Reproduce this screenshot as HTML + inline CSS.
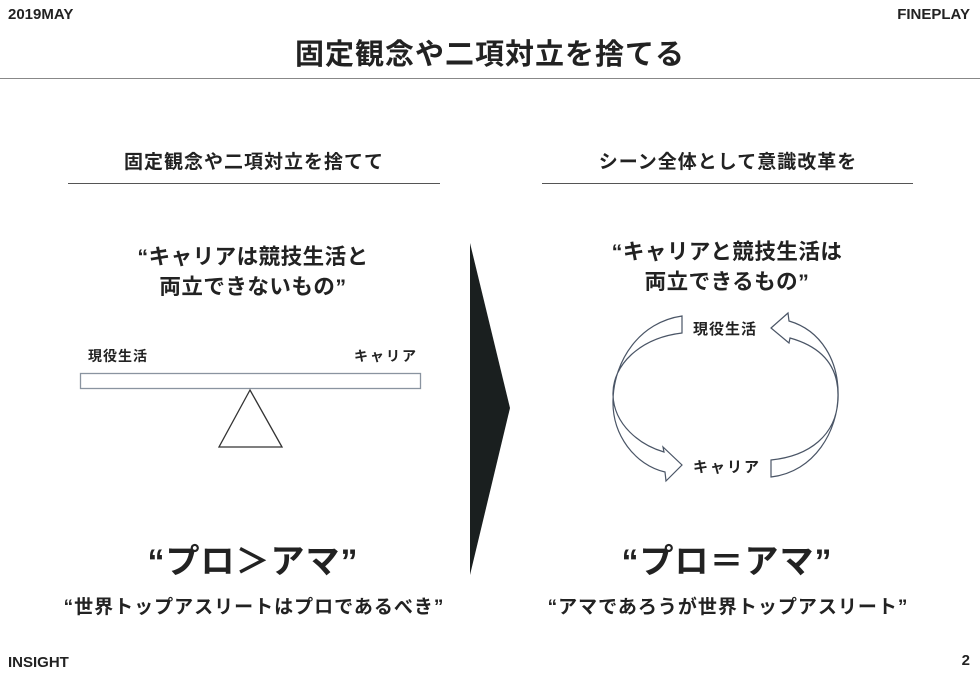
<!DOCTYPE html>
<html><head><meta charset="utf-8"><style>
body{margin:0;width:980px;height:679px;background:#fff;position:relative;overflow:hidden;font-family:"Liberation Sans","Noto Sans CJK JP",sans-serif;color:#222;font-weight:bold}
.t{position:absolute;white-space:nowrap}
.c{transform:translateX(-50%);text-align:center}
</style></head><body>
<div class="t" style="left:8px;top:6px;font-size:15px">2019MAY</div>
<div class="t" style="right:10px;top:6px;font-size:15px">FINEPLAY</div>
<div class="t c" style="left:490px;top:31px;font-size:29px;letter-spacing:1px">固定観念や二項対立を捨てる</div>
<div style="position:absolute;left:0;top:78px;width:980px;height:1px;background:#888"></div>
<div class="t c" style="left:254px;top:147px;font-size:19px;letter-spacing:1px">固定観念や二項対立を捨てて</div>
<div class="t c" style="left:728px;top:147px;font-size:19px;letter-spacing:1px">シーン全体として意識改革を</div>
<div style="position:absolute;left:68px;top:183px;width:372px;height:1px;background:#555"></div>
<div style="position:absolute;left:542px;top:183px;width:371px;height:1px;background:#555"></div>
<div class="t c" style="left:253px;top:242px;font-size:21.5px;line-height:30px;letter-spacing:0.5px">“キャリアは競技生活と<br>両立できないもの”</div>
<div class="t c" style="left:727px;top:237px;font-size:21.5px;line-height:30px;letter-spacing:0.5px">“キャリアと競技生活は<br>両立できるもの”</div>
<div class="t" style="left:88px;top:346px;font-size:14px;letter-spacing:1px">現役生活</div>
<div class="t" style="left:354px;top:346px;font-size:14px;letter-spacing:2px">キャリア</div>
<div class="t" style="left:693px;top:318px;font-size:15px;letter-spacing:1px">現役生活</div>
<div class="t" style="left:693px;top:456px;font-size:15px;letter-spacing:2px">キャリア</div>
<svg style="position:absolute;left:0;top:0" width="980" height="679">
<rect x="80.5" y="373.5" width="340" height="15" fill="#fff" stroke="#8a94a0" stroke-width="1.3"/>
<polygon points="250,390 219,447 282,447" fill="#fff" stroke="#333" stroke-width="1.3"/>
<polygon points="470,243 510,408 470,575" fill="#1a1f1f"/>
<path d="M682,316 L682,333 C640,338 612,365 613,395 C614,425 640,445 664,452 L663,447 L682,465 L666,481 L665,472 C635,465 612,435 613,400 C614,360 640,322 682,316 Z" fill="#fff" stroke="#4a5566" stroke-width="1.2"/>
<path d="M771,460 L771,477 C815,472 838,430 838,395 C838,360 815,345 790,338 L789,343 L771,328 L788,313 L789,321 C820,330 840,360 838,400 C836,435 810,456 771,460 Z" fill="#fff" stroke="#4a5566" stroke-width="1.2"/>
</svg>
<div class="t c" style="left:253px;top:534px;font-size:34px;letter-spacing:1px">“プロ＞アマ”</div>
<div class="t c" style="left:727px;top:534px;font-size:34px;letter-spacing:1px">“プロ＝アマ”</div>
<div class="t c" style="left:254px;top:592px;font-size:19px;letter-spacing:1px">“世界トップアスリートはプロであるべき”</div>
<div class="t c" style="left:728px;top:592px;font-size:19px;letter-spacing:1px">“アマであろうが世界トップアスリート”</div>
<div class="t" style="left:8px;top:654px;font-size:15px">INSIGHT</div>
<div class="t" style="right:10px;top:652px;font-size:15px">2</div>
</body></html>
